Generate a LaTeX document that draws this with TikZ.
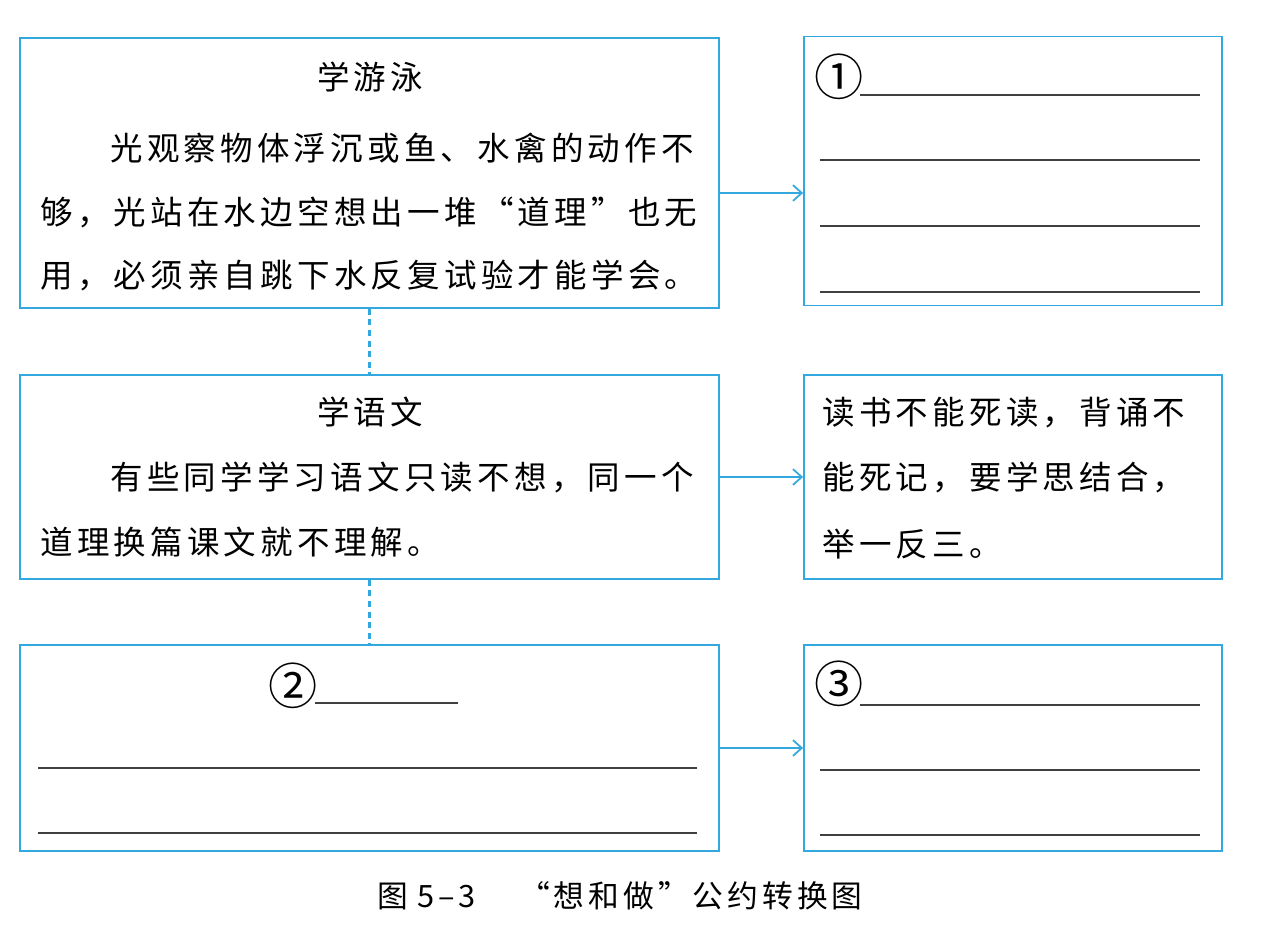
\documentclass[tikz,border=0pt]{standalone}
\usepackage{fontspec}
\newfontfamily\cjk[LetterSpace=13]{Noto Sans CJK SC}
\newfontfamily\cjkplain{Noto Sans CJK SC}
\usetikzlibrary{positioning,calc,arrows,arrows.meta}
\definecolor{frameblue}{RGB}{50,168,222}
\tikzstyle{edge} = [-{Straight Barb[length=5pt,width=9pt]}, frameblue, line width=1pt]
\tikzstyle{link} = [draw=frameblue, line width=1.3pt, dash pattern=on 3.4pt off 2.6pt]
\tikzstyle{panel} = [draw=frameblue, line width=1.1pt]
\tikzstyle{answerline} = [draw=black!75, line width=0.6pt]
\tikzstyle{circnum} = [font=\cjkplain\fontsize{28pt}{30pt}\selectfont]

\begin{document}
\begin{tikzpicture}[x=0.02cm, y=-0.02cm]
\tikzstyle{every node}=[inner sep=0pt, font=\cjk\fontsize{18.5pt}{22pt}\selectfont]
	\useasboundingbox (0,0) rectangle (1261,926);

	\node[panel, minimum width=13.98cm, minimum height=5.4cm] (swim) at (369.5,173) {};
	\node[panel, minimum width=8.36cm, minimum height=5.38cm] (swimr) at (1013,171) {};
	\node[panel, minimum width=13.98cm, minimum height=4.08cm] (chinese) at (369.5,477) {};
	\node[panel, minimum width=8.36cm, minimum height=4.08cm] (chineser) at (1013,477) {};
	\node[panel, minimum width=13.98cm, minimum height=4.12cm] (other) at (369.5,748) {};
	\node[panel, minimum width=8.36cm, minimum height=4.12cm] (otherr) at (1013,748) {};

	\node (swimt) at (370,77) {学游泳};
	\node[anchor=west] (swim1) at (110,148) {光观察物体浮沉或鱼、水禽的动作不};
	\node[anchor=west] (swim2) at (40,212) {够，光站在水边空想出一堆“道理”也无};
	\node[anchor=west] (swim3) at (40,275) {用，必须亲自跳下水反复试验才能学会。};

	\node (chineset) at (370,412) {学语文};
	\node[anchor=west] (chinese1) at (110,477) {有些同学学习语文只读不想，同一个};
	\node[anchor=west] (chinese2) at (40,542) {道理换篇课文就不理解。};

	\node[anchor=west] (chineser1) at (822,413) {读书不能死读，背诵不};
	\node[anchor=west] (chineser2) at (822,477) {能死记，要学思结合，};
	\node[anchor=west] (chineser3) at (822,544) {举一反三。};

	\node[circnum] (no1) at (839,77) {①};
	\draw[answerline] (860,95) -- (1200,95);
	\draw[answerline] (820,160) -- (1200,160);
	\draw[answerline] (820,226) -- (1200,226);
	\draw[answerline] (820,292) -- (1200,292);

	\node[circnum] (no2) at (293,686) {②};
	\draw[answerline] (315,703) -- (458,703);
	\draw[answerline] (38,768) -- (697,768);
	\draw[answerline] (38,833) -- (697,833);

	\node[circnum] (no3) at (839,684) {③};
	\draw[answerline] (860,705) -- (1200,705);
	\draw[answerline] (820,770) -- (1200,770);
	\draw[answerline] (820,835) -- (1200,835);

	\coordinate (a1) at ($(swim.east)+(0,20)$);
	\draw[edge] (a1) -- (a1 -| swimr.west);
	\draw[edge] (chinese.east) -- (chineser.west);
	\draw[edge] (other.east) -- (otherr.west);
	\draw[link] (swim.south) -- (chinese.north);
	\draw[link] (chinese.south) -- (other.north);

	\node[font=\cjk\fontsize{17.5pt}{20pt}\selectfont] (caption) at (620,896) {图\hspace{0.3em}5–3\hspace{1.4em}“想和做”公约转换图};
\end{tikzpicture}
\end{document}
